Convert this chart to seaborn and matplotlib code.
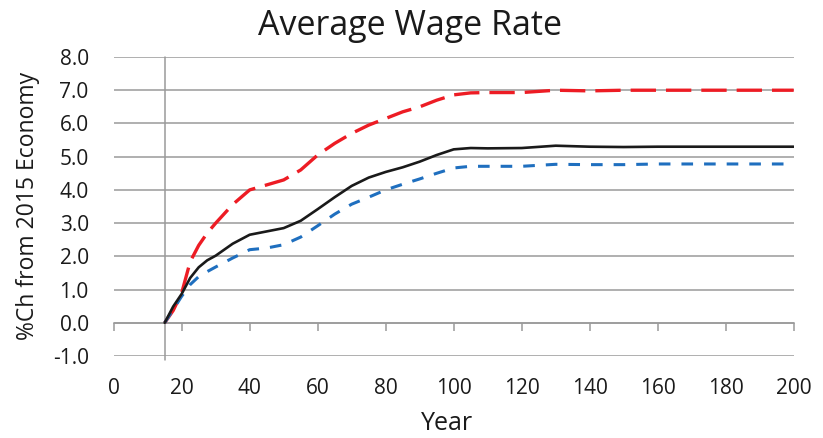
import matplotlib
matplotlib.use("Agg")
import matplotlib.pyplot as plt
import seaborn as sns
import pandas as pd

years = [15, 17.5, 20, 22.5, 25, 27.5, 30, 35, 40, 45, 50, 55, 60, 65, 70, 75, 80, 85, 90, 95, 100,
         105, 110, 120, 130, 140, 150, 160, 170, 180, 190, 200]
red_series = [0.0, 0.37, 0.9, 1.84, 2.33, 2.7, 3.0, 3.56, 4.0, 4.15, 4.3, 4.6, 5.05, 5.4, 5.7,
              5.95, 6.15, 6.35, 6.5, 6.7, 6.86, 6.92, 6.93, 6.93, 7.0, 6.98, 7.0, 7.0, 7.0,
              7.0, 7.0, 7.0]
black_series = [0.0, 0.49, 0.87, 1.35, 1.67, 1.88, 2.02, 2.38, 2.65, 2.75, 2.85, 3.07, 3.42,
                3.78, 4.12, 4.37, 4.54, 4.68, 4.85, 5.05, 5.22, 5.26, 5.25, 5.26, 5.33, 5.3,
                5.29, 5.3, 5.3, 5.3, 5.3, 5.3]
blue_series = [0.0, 0.4, 0.8, 1.15, 1.39, 1.54, 1.68, 1.95, 2.2, 2.25, 2.35, 2.58, 2.92, 3.27,
               3.57, 3.78, 4.0, 4.17, 4.33, 4.5, 4.66, 4.71, 4.71, 4.71, 4.77, 4.76, 4.76,
               4.78, 4.78, 4.78, 4.78, 4.78]

x_ticks = list(range(0, 201, 20))
y_ticks = [-1.0, 0.0, 1.0, 2.0, 3.0, 4.0, 5.0, 6.0, 7.0, 8.0]

df = pd.DataFrame({"Year": years, "red": red_series, "black": black_series, "blue": blue_series})

sns.set_theme(style="white")
plt.rcParams["font.family"] = ["Open Sans", "DejaVu Sans"]

fig = plt.figure(figsize=(8.23, 4.38), dpi=100)
ax = fig.add_axes([113.7 / 823, 1 - 356 / 438, (793.7 - 113.7) / 823, (356 - 57) / 438])

grid_c = "#9a9a9a"
for yv in y_ticks:
    ax.axhline(yv, color=grid_c, lw=1.1, zorder=1)
ax.axvline(15, ymin=-0.012, ymax=1, color=grid_c, lw=1.1, zorder=1, clip_on=False)

sns.lineplot(data=df, x="Year", y="red", ax=ax, color="#ED1C24", lw=2.4,
             ls=(0, (7.6, 3.0)), zorder=3)
sns.lineplot(data=df, x="Year", y="blue", ax=ax, color="#1F6FBF", lw=2.2,
             ls=(0, (3.8, 3.6)), zorder=3)
sns.lineplot(data=df, x="Year", y="black", ax=ax, color="#1a1a1a", lw=1.9, zorder=4)

ax.set_xlim(0, 200)
ax.set_ylim(-1, 8)
ax.set_xticks(x_ticks)
ax.set_yticks(y_ticks)
ax.set_yticklabels([f"{v:.1f}" for v in y_ticks])

for s in ["top", "right", "left"]:
    ax.spines[s].set_visible(False)
ax.spines["bottom"].set_position(("data", 0))
ax.spines["bottom"].set_color(grid_c)
ax.spines["bottom"].set_linewidth(1.1)

ax.tick_params(axis="x", direction="out", length=6, width=1.1, color=grid_c,
               pad=34, labelsize=15, labelcolor="#1a1a1a", bottom=True)
ax.tick_params(axis="y", length=0, pad=18, labelsize=15, labelcolor="#1a1a1a")

ax.set_xlabel("")
ax.set_ylabel("")
fig.text(0.5 * (113.7 + 793.7) / 823 - 0.008, 1 - 424 / 438, "Year", ha="center", va="center",
         fontsize=18, color="#1a1a1a")
fig.text(28 / 823, 1 - 206 / 438, "%Ch from 2015 Economy", ha="center", va="center",
         rotation=90, fontsize=16.5, color="#1a1a1a")
fig.text(410 / 823, 1 - 26 / 438, "Average Wage Rate", ha="center", va="center",
         fontsize=24.5, color="#1a1a1a")

fig.savefig("out.png", dpi=100)
